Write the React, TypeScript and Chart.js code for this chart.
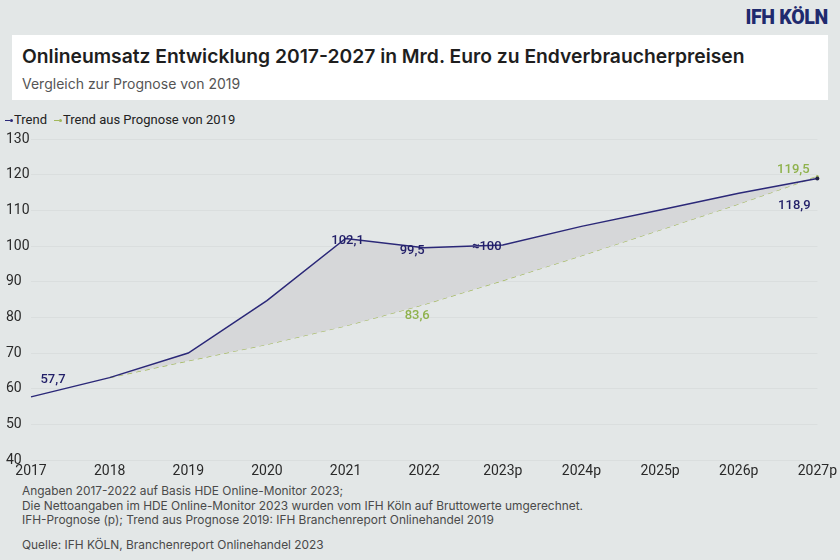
import React, { useEffect, useRef } from "react";
import { Chart, registerables } from "chart.js";

Chart.register(...registerables);

const years = ["2017", "2018", "2019", "2020", "2021", "2022", "2023p", "2024p", "2025p", "2026p", "2027p"];
const trend = [57.7, 63.1, 70.0, 84.7, 102.1, 99.5, 100.3, 105.5, 110.1, 114.8, 118.9];
const prognose2019 = [null, 63.1, 67.8, 72.4, 77.6, 83.6, 90.3, 97.3, 104.5, 111.8, 119.5];
const yTicks = [40, 50, 60, 70, 80, 90, 100, 110, 120, 130];

const trendLabelIdx = [0, 4, 5, 6, 10];
const trendLabelText = ["57,7", "102,1", "99,5", "≈100", "118,9"];
const progLabelIdx = [5, 10];
const progLabelText = ["83,6", "119,5"];

const NAVY = "#2b2878";
const NAVY_TEXT = "#221f68";
const GREEN = "#a2b85a";
const GREEN_TEXT = "#8fb24c";
const BG = "#e3e7e7";

// label offsets (px) relative to the point
const trendOffsets: [number, number][] = [[22, -17], [2, 2], [-12, 3], [-16, 2], [-23, 27]];
const progOffsets: [number, number][] = [[-7, 11], [-24, -7]];

const labelPlugin = {
  id: "pointLabels",
  afterDatasetsDraw(chart: any) {
    const ctx = chart.ctx;
    ctx.save();
    ctx.font = "500 13px Roboto";
    ctx.textAlign = "center";
    ctx.textBaseline = "middle";
    const m0 = chart.getDatasetMeta(0);
    trendLabelIdx.forEach((idx, i) => {
      const p = m0.data[idx];
      ctx.fillStyle = NAVY_TEXT;
      ctx.fillText(trendLabelText[i], p.x + trendOffsets[i][0], p.y + trendOffsets[i][1]);
    });
    const m1 = chart.getDatasetMeta(1);
    progLabelIdx.forEach((idx, i) => {
      const p = m1.data[idx];
      ctx.fillStyle = GREEN_TEXT;
      ctx.fillText(progLabelText[i], p.x + progOffsets[i][0], p.y + progOffsets[i][1]);
    });
    ctx.restore();
  },
};

function LegendMark({ color }: { color: string }) {
  return (
    <span style={{ display: "inline-flex", alignItems: "center", marginRight: 1, verticalAlign: "middle" }}>
      <span style={{ display: "inline-block", width: 5, height: 1.5, background: color }} />
      <span style={{ display: "inline-block", width: 3, height: 3, borderRadius: 2, background: color }} />
    </span>
  );
}

export default function App() {
  const ref = useRef<HTMLCanvasElement | null>(null);
  useEffect(() => {
    if (!ref.current) return;
    const chart = new Chart(ref.current, {
      type: "line",
      data: {
        labels: years,
        datasets: [
          {
            label: "Trend",
            data: trend,
            borderColor: NAVY,
            backgroundColor: "#d6d7d9",
            borderWidth: 1.5,
            fill: "+1",
            tension: 0,
            pointRadius: (c: any) => (c.dataIndex === years.length - 1 ? 2 : 0),
            pointBackgroundColor: "#222244",
            pointBorderWidth: 0,
          },
          {
            label: "Trend aus Prognose von 2019",
            data: prognose2019,
            borderColor: GREEN,
            borderWidth: 1.2,
            borderDash: [5, 4],
            fill: false,
            tension: 0,
            pointRadius: (c: any) => (c.dataIndex === years.length - 1 ? 1.5 : 0),
            pointBackgroundColor: GREEN,
            pointBorderWidth: 0,
          },
        ],
      },
      options: {
        animation: false,
        responsive: false,
        maintainAspectRatio: false,
        layout: { padding: { top: 11, left: 6, right: 20, bottom: 0 } },
        plugins: { legend: { display: false }, tooltip: { enabled: false } },
        scales: {
          x: {
            grid: { display: false, drawTicks: false },
            border: { display: false },
            ticks: { color: "#2a2a2a", font: { family: "Roboto", size: 14 }, padding: 3, maxRotation: 0, autoSkip: false },
            afterFit: (s: any) => { s.height = 22; },
          },
          y: {
            min: 40,
            max: 130,
            afterBuildTicks: (s: any) => { s.ticks = yTicks.map((v) => ({ value: v })); },
            grid: { color: "rgba(212,216,216,0.6)", drawTicks: false, lineWidth: 1 },
            border: { display: false },
            ticks: { color: "#2a2a2a", font: { family: "Roboto", size: 14 }, crossAlign: "far", padding: 0 },
            afterFit: (s: any) => { s.width = 25; },
          },
        },
      },
      plugins: [labelPlugin],
    } as any);
    return () => chart.destroy();
  }, []);

  return (
    <div style={{ position: "fixed", left: 0, top: 0, width: 840, height: 560, background: BG, overflow: "hidden", fontFamily: "Roboto" }}>
      <div style={{ position: "absolute", right: 12, top: 6, fontFamily: "Roboto", fontWeight: 900, fontSize: 19.5, color: "#1f2a6e", letterSpacing: -0.3 }}>
        IFH KÖLN
      </div>
      <div style={{ position: "absolute", left: 12, top: 35, width: 816, height: 65, background: "#ffffff" }}>
        <div style={{ position: "absolute", left: 10, top: 9, fontFamily: "Inter", fontWeight: 600, fontSize: 19.3, color: "#1e1e1e", whiteSpace: "nowrap" }}>
          Onlineumsatz Entwicklung 2017-2027 in Mrd. Euro zu Endverbraucherpreisen
        </div>
        <div style={{ position: "absolute", left: 10, top: 40, fontFamily: "Inter", fontWeight: 400, fontSize: 14, color: "#555", whiteSpace: "nowrap" }}>
          Vergleich zur Prognose von 2019
        </div>
      </div>
      <div style={{ position: "absolute", left: 5, top: 112, fontFamily: "Roboto", fontSize: 13, color: "#222", whiteSpace: "nowrap" }}>
        <LegendMark color={NAVY} />Trend
        <span style={{ display: "inline-block", width: 7 }} />
        <LegendMark color={GREEN} />Trend aus Prognose von 2019
      </div>
      <canvas ref={ref} width={840} height={354} style={{ position: "absolute", left: 0, top: 128, width: 840, height: 354 }} />
      <div style={{ position: "absolute", left: 22, top: 484, fontFamily: "Inter", fontSize: 11.9, color: "#4a4a4a", lineHeight: "14.5px", whiteSpace: "nowrap" }}>
        <div>Angaben 2017-2022 auf Basis HDE Online-Monitor 2023;</div>
        <div>Die Nettoangaben im HDE Online-Monitor 2023 wurden vom IFH Köln auf Bruttowerte umgerechnet.</div>
        <div>IFH-Prognose (p); Trend aus Prognose 2019: IFH Branchenreport Onlinehandel 2019</div>
        <div style={{ marginTop: 10 }}>Quelle: IFH KÖLN, Branchenreport Onlinehandel 2023</div>
      </div>
    </div>
  );
}
